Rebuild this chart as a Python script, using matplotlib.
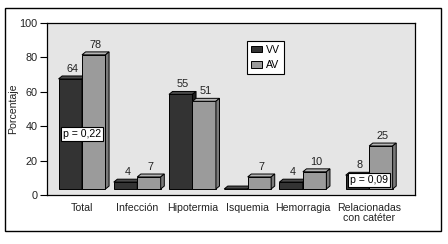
import matplotlib
matplotlib.use("Agg")
import matplotlib.pyplot as plt
import matplotlib.patches as patches

plt.rcParams['font.family'] = ['Liberation Sans', 'DejaVu Sans']

categories = ["Total", "Infección", "Hipotermia", "Isquemia", "Hemorragia",
              "Relacionadas\ncon catéter"]
vv_values = [64, 4, 55, 0, 4, 8]
av_values = [78, 7, 51, 7, 10, 25]
series_names = ["VV", "AV"]
p_labels = ["p = 0,22", "p = 0,09"]

# layout
positions = [0, 1, 2, 3, 4, 5.2]
p_positions = [(0, 35.5), (5.19, 8.7)]
bar_w = 0.425
floor = 3.5          # 3D floor offset
dx, dy = 0.065, 1.7  # depth of the 3D faces

styles = {
    "VV": dict(front="#333333", top="#4a4a4a", side="#1e1e1e"),
    "AV": dict(front="#9b9b9b", top="#b4b4b4", side="#7a7a7a"),
}

fig = plt.figure(figsize=(4.48, 2.44), dpi=100)
ax = fig.add_axes([47 / 448, 1 - 195 / 244, 368 / 448, 172 / 244])
ax.set_facecolor("#e5e5e5")


def bar3d(x0, val, st):
    x1 = x0 + bar_w
    y0 = floor
    y1 = floor + val
    ax.add_patch(patches.Rectangle((x0, y0), bar_w, val, fc=st["front"], ec="black", lw=0.7, zorder=3))
    ax.add_patch(patches.Polygon([(x0, y1), (x0 + dx, y1 + dy), (x1 + dx, y1 + dy), (x1, y1)],
                                 closed=True, fc=st["top"], ec="black", lw=0.7, zorder=3))
    ax.add_patch(patches.Polygon([(x1, y0), (x1 + dx, y0 + dy), (x1 + dx, y1 + dy), (x1, y1)],
                                 closed=True, fc=st["side"], ec="black", lw=0.7, zorder=3))
    if val > 0:
        ax.text(x0 + bar_w / 2 + dx / 2, y1 + dy + 1.2, str(val), ha="center", va="bottom",
                fontsize=7.8, color="#222222", zorder=4)


for pos, v_vv, v_av in zip(positions, vv_values, av_values):
    bar3d(pos - bar_w, v_vv, styles["VV"])
    bar3d(pos, v_av, styles["AV"])

for (px, py), lab in zip(p_positions, p_labels):
    ax.text(px, py, lab, ha="center", va="center", fontsize=7.6, zorder=5,
            bbox=dict(boxstyle="square,pad=0.2", fc="white", ec="black", lw=0.8))

ax.set_xlim(-0.634, 6.03)
ax.set_ylim(0, 100)
ax.set_yticks(range(0, 101, 20))
ax.set_xticks(positions)
ax.set_xticklabels(categories, fontsize=7.6, color="#222222", linespacing=1.05)
ax.tick_params(axis="x", length=0, pad=5.5)
ax.tick_params(axis="y", direction="out", length=5, width=0.8, labelsize=7.8, pad=2,
               labelcolor="#222222")
for s in ax.spines.values():
    s.set_linewidth(0.9)
ax.set_ylabel("Porcentaje", fontsize=7.6, color="#222222")
ax.yaxis.set_label_coords(-29 / 368, 0.5)

handles = [patches.Patch(fc=styles[n]["front"], ec="black", lw=0.7) for n in series_names]
leg = ax.legend(handles, series_names, loc="upper left", bbox_to_anchor=(0.543, 0.895),
                frameon=True, fancybox=False, fontsize=7.6, handlelength=1.1, handleheight=0.6,
                handletextpad=0.4, labelspacing=0.5, borderpad=0.35, borderaxespad=0)
leg.get_frame().set_edgecolor("black")
leg.get_frame().set_linewidth(0.8)
leg.get_frame().set_facecolor("white")
leg.get_frame().set_alpha(1)

# outer frame
fig.add_artist(patches.Rectangle((5 / 448, 1 - 231 / 244), 436 / 448, 223 / 244,
                                 transform=fig.transFigure, fill=False, ec="black", lw=1.0))

fig.savefig("out.png", dpi=100)
